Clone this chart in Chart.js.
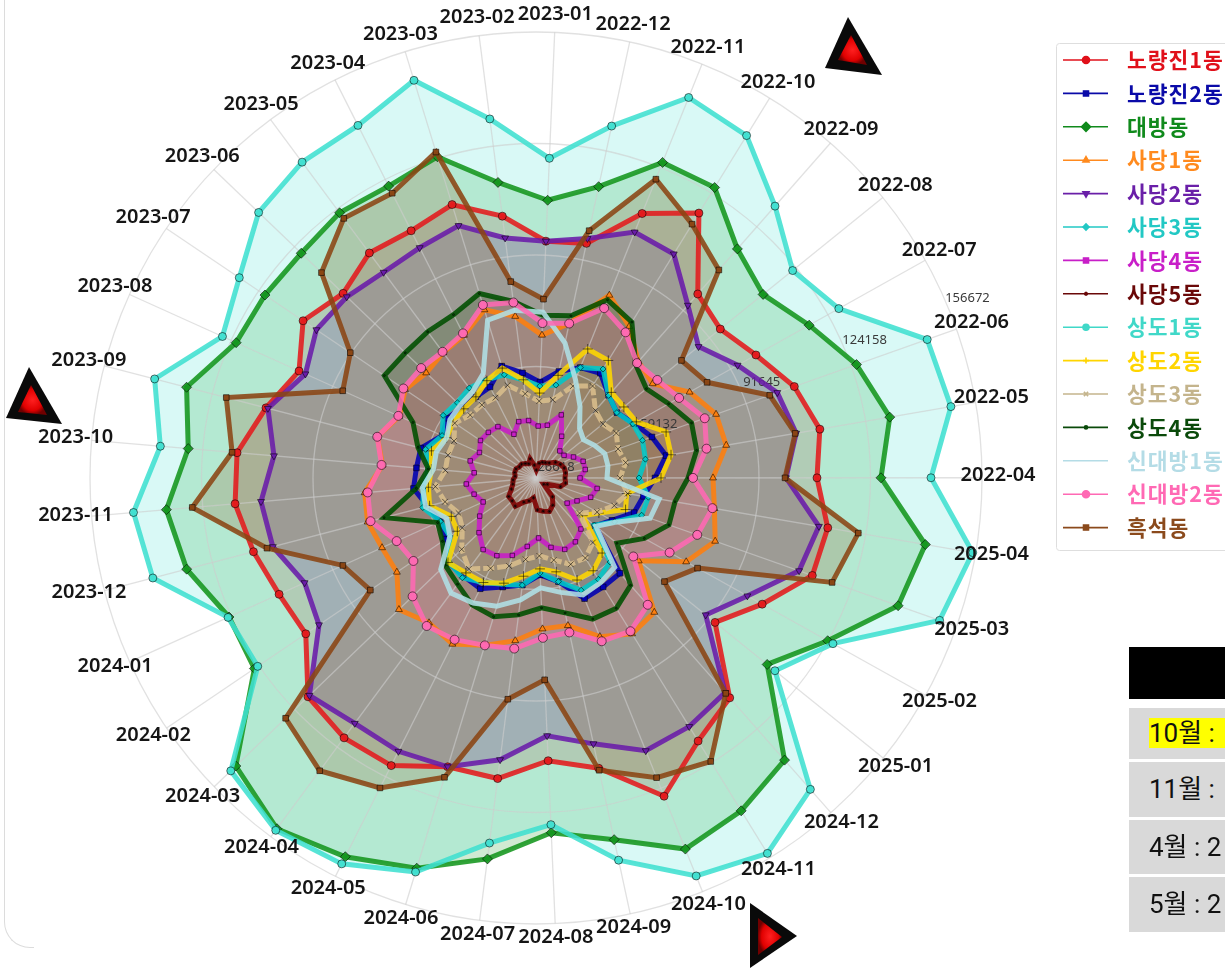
<!DOCTYPE html>
<html lang="ko">
<head>
<meta charset="utf-8">
<title>동작구 동별 레이더 차트</title>
<script src="https://cdn.jsdelivr.net/npm/chart.js@4/dist/chart.umd.js"></script>
<style>
html, body { margin: 0; padding: 0; background: #fff; width: 1225px; height: 968px; overflow: hidden; }
#salesChart { position: absolute; left: 0; top: 0; }
.card-edge { position: absolute; left: 4px; top: -30px; width: 30px; height: 978px; box-sizing: border-box;
    border-left: 1px solid #dcdcdc; border-bottom: 1px solid #dcdcdc; border-bottom-left-radius: 26px; }
.note { position: absolute; left: 1129px; width: 96px; background: #d9d9d9; overflow: hidden; white-space: nowrap;
    font: 26px Roboto, "Noto Sans CJK KR", sans-serif; color: #111; box-sizing: border-box; padding-left: 20px; }
.note.head { background: #000; }
.note mark { background: #ff0; color: #111; padding-right: 30px; }
svg.arrow { position: absolute; left: 0; top: 0; }
</style>
</head>
<body>
<div class="card-edge"></div>
<canvas id="salesChart" width="1225" height="968"></canvas>

<div class="note head" style="top:647px;height:52px"></div>
<div class="note" style="top:708px;height:51px;line-height:51px"><mark>10월 :</mark></div>
<div class="note" style="top:762px;height:55px;line-height:55px">11월 :</div>
<div class="note" style="top:820px;height:54px;line-height:54px">4월 : 2</div>
<div class="note" style="top:877px;height:55px;line-height:55px">5월 : 2</div>

<svg class="arrow" width="1225" height="968">
    <defs>
        <radialGradient id="redGlow"><stop offset="0" stop-color="#ff2020"/><stop offset="0.7" stop-color="#e00000"/><stop offset="1" stop-color="#700000"/></radialGradient>
    </defs>
    <polygon points="848,17 825,68 882,75" fill="#0a0a0a"/>
    <polygon points="851,35 838,60 867,65" fill="url(#redGlow)"/>
    <polygon points="29,367 6,418 62,424" fill="#0a0a0a"/>
    <polygon points="31,385 18,412 47,415" fill="url(#redGlow)"/>
    <polygon points="750,903 797,936 750,968" fill="#0a0a0a"/>
    <polygon points="758,918 782,937 758,955" fill="url(#redGlow)"/>
</svg>

<script>
const categories = ['2023-01', '2022-12', '2022-11', '2022-10', '2022-09', '2022-08', '2022-07', '2022-06', '2022-05', '2022-04',
    '2025-04', '2025-03', '2025-02', '2025-01', '2024-12', '2024-11', '2024-10', '2024-09', '2024-08', '2024-07', '2024-06', '2024-05',
    '2024-04', '2024-03', '2024-02', '2024-01', '2023-12', '2023-11', '2023-10', '2023-09', '2023-08', '2023-07', '2023-06', '2023-05',
    '2023-04', '2023-03', '2023-02'];

const noryangjin1 = [95730, 96600, 109720, 117310, 98060, 95730, 100100, 106520, 110600, 108560, 112930, 112060, 102140, 93690, 112060, 116720, 126640, 113220, 109140, 114970, 114680, 120510, 120810, 118760, 107680, 108850, 111770, 114680, 114100, 107970, 102430, 108560, 104470, 108270, 107390, 110020, 103600];
const noryangjin2 = [54610, 58400, 61320, 62480, 58690, 56940, 59280, 62480, 65110, 61320, 58400, 56940, 51990, 48780, 63650, 63940, 64530, 57530, 54900, 58110, 59860, 62780, 62190, 62190, 58400, 57240, 59280, 62480, 61610, 61320, 56650, 57820, 56360, 56070, 56360, 60740, 57530];
const daebang = [107680, 113510, 125760, 126050, 115560, 111770, 117890, 125760, 131300, 127220, 141800, 138590, 124010, 113220, 136260, 140630, 143260, 134510, 130140, 138590, 145590, 150260, 153760, 147920, 125760, 124890, 131890, 134800, 128390, 131890, 122550, 121970, 121390, 122850, 121970, 124600, 113510];
const sadang1 = [68320, 72690, 84060, 78520, 71820, 70360, 77940, 82310, 82900, 78230, 79400, 82020, 76770, 65110, 78810, 79980, 76480, 70650, 70650, 74440, 77650, 80860, 79110, 82020, 75610, 75900, 77360, 76770, 71520, 74440, 70360, 72690, 70940, 72110, 73270, 77940, 74150];
const sadang2 = [95730, 98060, 103890, 103310, 93690, 87560, 93980, 101270, 103600, 99520, 110310, 107970, 97190, 90190, 110020, 111770, 112350, 105930, 101850, 109430, 114680, 115850, 115560, 118180, 103020, 100680, 105930, 107100, 103310, 107390, 100390, 103890, 103020, 101270, 101850, 103600, 97190];
const sadang3 = [53450, 54320, 61320, 63940, 58690, 56940, 58990, 59570, 58990, 56650, 59860, 59280, 52860, 48490, 59280, 61320, 61900, 57530, 54320, 58110, 58990, 60740, 62780, 61900, 56940, 57240, 60740, 59570, 58110, 59860, 56650, 59280, 58400, 59280, 58690, 58110, 55490];
const sadang4 = [41780, 42360, 46450, 40910, 37120, 37120, 39160, 41200, 41200, 39450, 44700, 43530, 40320, 38280, 46450, 48490, 49070, 47320, 44110, 46740, 50240, 51990, 52570, 49650, 46450, 43530, 45280, 47030, 44700, 46450, 44700, 46160, 45860, 45280, 40910, 43820, 43530];
const sadang5 = [28950, 30990, 31580, 31870, 32450, 33910, 34780, 35370, 35370, 35070, 35370, 34200, 30410, 29530, 33910, 35950, 37120, 36530, 35950, 32450, 33620, 34490, 36820, 36240, 36240, 34490, 33620, 33320, 32740, 33030, 33030, 32450, 32450, 31870, 31280, 32450, 30410];
const sangdo1 = [119930, 131590, 146170, 143840, 132180, 122850, 127800, 147630, 149380, 141800, 155800, 151420, 125760, 116140, 147630, 155210, 151710, 140630, 127800, 133930, 146760, 152590, 154340, 149970, 124600, 125180, 142090, 144420, 136550, 141510, 126930, 131010, 138590, 141220, 141800, 147920, 132180];
const sangdo2 = [51400, 57240, 67150, 66860, 59860, 59570, 60150, 66860, 66570, 63070, 53450, 54320, 47610, 44110, 55780, 58400, 58690, 54610, 53150, 55490, 58690, 60740, 61030, 62190, 54320, 53740, 58690, 58110, 57240, 58110, 55200, 55780, 55780, 56070, 58400, 60150, 55490];
const sangdo3 = [49070, 49950, 55490, 58110, 52860, 51700, 53450, 51990, 53150, 51110, 53740, 50820, 47030, 42950, 51700, 54030, 53740, 51110, 49360, 50530, 53450, 56070, 59570, 56650, 52570, 51400, 54030, 56070, 53150, 53150, 52860, 55200, 53150, 53150, 52860, 54900, 51400];
const sangdo4 = [74150, 75020, 82610, 79980, 70650, 68030, 70940, 74730, 74150, 70940, 67730, 67730, 62780, 56940, 68320, 71230, 70940, 66860, 64530, 66860, 68900, 68030, 65110, 63360, 59570, 58110, 72400, 61610, 58110, 62190, 65980, 79980, 79400, 79690, 79980, 82900, 78520];
const sindaebang1 = [75020, 66860, 57530, 51110, 45860, 44410, 46160, 47900, 47900, 47320, 63070, 61900, 53150, 49070, 61320, 62480, 63360, 60740, 58690, 62480, 65690, 67440, 68320, 65110, 56940, 55200, 59860, 59860, 56650, 56650, 55200, 56940, 57240, 57820, 60740, 74730, 75900];
const sindaebang2 = [71820, 72690, 79980, 76480, 71230, 72110, 74440, 78810, 77070, 72400, 78810, 76480, 71230, 63070, 75900, 79110, 77940, 72690, 73270, 76770, 77650, 79400, 80270, 76480, 69780, 71230, 76480, 75900, 71820, 74440, 70650, 73270, 72980, 72400, 73860, 79400, 78230];
const heukseok = [78810, 100390, 120510, 113510, 107390, 81150, 83770, 98930, 103310, 99230, 121970, 118180, 80560, 74730, 110310, 123720, 120810, 113810, 85520, 91650, 117890, 127800, 132760, 127800, 84940, 88440, 107680, 127220, 115560, 119930, 88440, 91940, 113220, 120810, 119640, 126050, 84360];

const seriesNames = ['노량진1동', '노량진2동', '대방동', '사당1동', '사당2동', '사당3동', '사당4동', '사당5동', '상도1동', '상도2동', '상도3동', '상도4동', '신대방1동', '신대방2동', '흑석동'];
const seriesValues = [noryangjin1, noryangjin2, daebang, sadang1, sadang2, sadang3, sadang4, sadang5, sangdo1, sangdo2, sangdo3, sangdo4, sindaebang1, sindaebang2, heukseok];
const seriesRgb = ['228,26,28', '0,0,180', '20,150,30', '255,127,14', '106,27,170', '0,200,200', '200,30,200', '128,0,0', '64,224,208', '255,215,0', '218,190,140', '0,80,0', '176,224,230', '255,105,180', '139,69,19'];
const legendText = ['#e0101a', '#0a0aa8', '#108a1c', '#ff8a1e', '#6a1fa8', '#22c8c4', '#c81fc8', '#6a0808', '#40d8c8', '#ffd500', '#c4b48c', '#0a4a0a', '#b4dce6', '#ff69b4', '#8b4a1c'];
const pointStyles = ['circle', 'rect', 'rectRot', 'triangle', 'triangle', 'rectRot', 'rect', 'star', 'circle', 'cross', 'crossRot', 'circle', 'line', 'circle', 'rect'];
const pointSizes = [4, 4, 5, 4, 4, 3, 3.2, 2, 4, 5, 4, 1, 0, 4.5, 4];
const legendSizes = [3.5, 3.5, 4.5, 3.5, 3.5, 3, 3.5, 2, 3, 3, 3, 1.5, 0, 3.5, 3.5];

const tickLabels = ['26618', '59132', '91645', '124158', '156672'];
const tickSpoke = '2022-06';

// labels drawn centred on the spoke ends, tick numbers along one spoke, legend on the right
const radarText = {
    id: 'radarText',
    beforeDatasetsDraw(chart) {
        const ctx = chart.ctx;
        const scale = chart.scales.r;
        ctx.save();
        ctx.textAlign = 'center';
        ctx.textBaseline = 'middle';
        ctx.font = '13px "Noto Sans", sans-serif';
        ctx.fillStyle = '#3a3a3a';
        const spoke = categories.indexOf(tickSpoke);
        scale.ticks.forEach((tick, i) => {
            const p = scale.getPointPositionForValue(spoke, tick.value);
            ctx.fillText(tickLabels[i], p.x + 20 - 2.25 * i, p.y - 11 - 5 * i);
        });
        ctx.restore();
    },
    afterDatasetsDraw(chart) {
        const ctx = chart.ctx;
        const scale = chart.scales.r;
        ctx.save();
        ctx.textAlign = 'center';
        ctx.textBaseline = 'middle';

        ctx.font = '600 20px "Noto Sans", sans-serif';
        ctx.fillStyle = '#151515';
        categories.forEach((label, i) => {
            const p = scale.getPointPosition(i, scale.drawingArea + 16);
            ctx.fillText(label, p.x, p.y - 2);
        });

        // legend
        ctx.strokeStyle = '#dedede';
        ctx.lineWidth = 1;
        ctx.beginPath();
        ctx.roundRect(1056.5, 43.5, 200, 507, 3);
        ctx.stroke();
        ctx.textAlign = 'left';
        ctx.font = 'bold 21.5px "Noto Sans CJK KR", sans-serif';
        ctx.letterSpacing = '1px';
        seriesNames.forEach((name, i) => {
            const y = 60 + i * 33.4;
            ctx.strokeStyle = legendText[i];
            ctx.fillStyle = legendText[i];
            ctx.lineWidth = 1.6;
            ctx.beginPath();
            ctx.moveTo(1063, y);
            ctx.lineTo(1108, y);
            ctx.stroke();
            if (legendSizes[i] > 0) {
                Chart.helpers.drawPoint(ctx, { pointStyle: pointStyles[i], radius: legendSizes[i], rotation: i === 4 ? 180 : 0, borderWidth: 1 }, 1086, y);
                ctx.fill();
            }
            ctx.fillText(name, 1127, y);
        });
        ctx.restore();
    }
};

const datasets = seriesNames.map((name, i) => ({
    label: name,
    data: seriesValues[i],
    order: seriesNames.length - i,
    borderColor: `rgba(${seriesRgb[i]},0.88)`,
    backgroundColor: `rgba(${seriesRgb[i]},0.2)`,
    borderWidth: 5,
    borderDash: name === '상도3동' ? [11, 3] : [],
    fill: true,
    tension: 0,
    pointStyle: pointStyles[i],
    pointRadius: pointSizes[i],
    pointRotation: i === 4 ? 180 : 0,
    pointBackgroundColor: `rgba(${seriesRgb[i]},0.9)`,
    pointBorderColor: 'rgba(0,0,0,0.55)',
    pointBorderWidth: 1
}));

const ctx = document.getElementById('salesChart').getContext('2d');
const chart = new Chart(ctx, {
    type: 'radar',
    data: { labels: categories, datasets: datasets },
    plugins: [radarText],
    options: {
        responsive: false,
        animation: false,
        layout: { padding: { left: 90, top: 32, right: 243, bottom: 44 } },
        plugins: {
            legend: { display: false },
            tooltip: { enabled: false },
            filler: { drawTime: 'beforeDraw' }
        },
        scales: {
            r: {
                min: 26618,
                max: 156672,
                startAngle: 2.4,
                beginAtZero: false,
                ticks: { stepSize: 32513.5, display: false },
                pointLabels: { display: false },
                grid: { circular: true, color: 'rgba(205,205,205,0.6)', lineWidth: 1.3 },
                angleLines: { color: 'rgba(205,205,205,0.6)', lineWidth: 1.3 }
            }
        }
    }
});
</script>
</body>
</html>
